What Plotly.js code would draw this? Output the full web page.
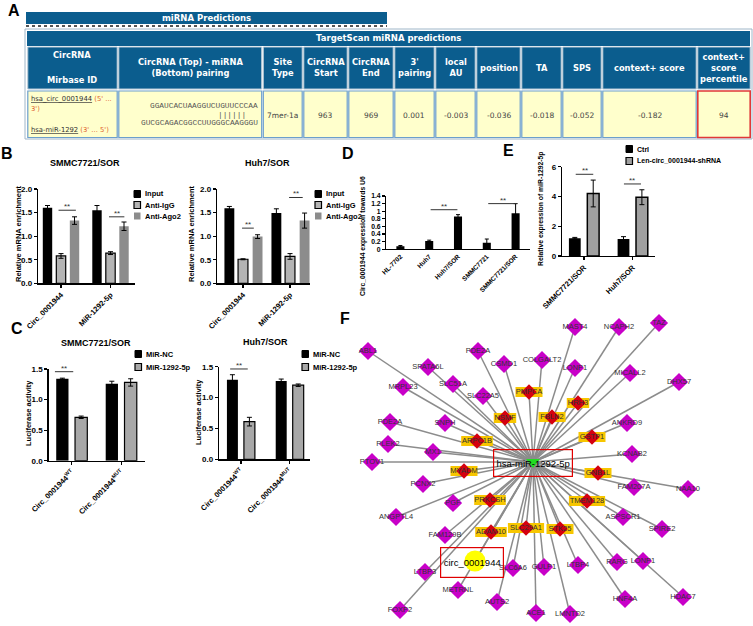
<!DOCTYPE html>
<html>
<head>
<meta charset="utf-8">
<script src="https://cdn.plot.ly/plotly-3.0.1.min.js"></script>
<style>body{margin:0;background:#fff}#chart{width:753px;height:626px}</style>
</head>
<body>
<div id="chart"></div>
<script>
// ---------- data ----------
// A: TargetScan table
const tableHeaders = ['CircRNA (Top) - miRNA<br>(Bottom) pairing', 'Site<br>Type', 'CircRNA<br>Start', 'CircRNA<br>End',
  "3'<br>pairing", 'local<br>AU', 'position', 'TA', 'SPS', 'context+ score', 'context+<br>score<br>percentile']
const tableValues = ['', '7mer-1a', '963', '969', '0.001', '-0.003', '-0.036', '-0.018', '-0.052', '-0.182', '94']
const circSeq = 'GGAUCACUAAGGUCUGUUCCCAA'
const mirSeq = 'GUCGCAGACGGCCUUGGGCAAGGGU'
const pairing = '||||||'

// B: RIP
const ripGroups = ['Circ_0001944', 'MiR-1292-5p']
const ripSeries = ['Input', 'Anti-IgG', 'Anti-Ago2']
const ripSmmc = [[1.6, 1.55], [0.58, 0.64], [1.33, 1.21]]
const ripSmmcErr = [[0.05, 0.1], [0.05, 0.03], [0.08, 0.09]]
const ripHuh7 = [[1.59, 1.49], [0.51, 0.57], [0.99, 1.33]]
const ripHuh7Err = [[0.04, 0.09], [0.01, 0.06], [0.04, 0.16]]

// C: luciferase
const lucGroups = ['Circ_0001944<sup>WT</sup>', 'Circ_0001944<sup>MUT</sup>']
const lucSeries = ['MiR-NC', 'MiR-1292-5p']
const lucSmmc = [[1.34, 1.26], [0.71, 1.28]]
const lucSmmcErr = [[0.01, 0.04], [0.02, 0.06]]
const lucHuh7 = [[1.29, 1.27], [0.61, 1.2]]
const lucHuh7Err = [[0.08, 0.03], [0.07, 0.02]]

// D: circ expression
const cellLines = ['HL-7702', 'Huh7', 'Huh7/SOR', 'SMMC7721', 'SMMC7721/SOR']
const circExpr = [0.08, 0.22, 0.86, 0.17, 0.95]
const circExprErr = [0.02, 0.02, 0.05, 0.1, 0.25]

// E: miR-1292-5p expression
const kdGroups = ['SMMC7721/SOR', 'Huh7/SOR']
const kdSeries = ['Ctrl', 'Len-circ_0001944-shRNA']
const kdExpr = [[1.2, 1.15], [4.2, 3.95]]
const kdErr = [[0.05, 0.15], [0.9, 0.5]]

// F: network (node layout positions)
const geneNames = ['ABL1', 'SPATA6L', 'PDE2A', 'CSMD1', 'COLGALT2', 'MAST4', 'NCAPH2', 'TAZ', 'LONP1', 'MICALL2',
  'DHX57', 'MRPL23', 'SLC51A', 'SLC22A5', 'PDE2A', 'SNPH', 'ANKRD9', 'PLEK2', 'MX1', 'KCNAB2', 'PTOV1', 'PCNX2',
  'FAM207A', 'NAA10', 'PGF', 'ANGPTL4', 'ASPSCR1', 'SPIRE2', 'FAM129B', 'RARG', 'LONP1', 'LTBP4', 'SLC6A6',
  'GULP1', 'LTBP3', 'METRNL', 'HDAC7', 'HNF4A', 'AUTS2', 'FOXP2', 'ACE1', 'LMNTD2']
const geneX = [368, 428, 478, 504, 542, 575, 619, 659, 575, 630, 679, 403, 453, 483, 390, 445, 627, 388, 433, 632,
  372, 423, 634, 688, 453, 396, 623, 662, 445, 617, 643, 578, 513, 544, 425, 458, 683, 625, 497, 400, 536, 570]
const geneY = [351, 367, 351, 364, 360, 327, 327, 323, 368, 373, 382, 387, 384, 396, 422, 423, 423, 444, 452, 454,
  462, 484, 487, 489, 503, 517, 517, 529, 535, 562, 561, 565, 568, 567, 572, 590, 597, 599, 602, 610, 613, 614]
const hitNames = ['PMPCA', 'NSMF', 'FBLN2', 'HRH3', 'ARPC1B', 'GSTP1', 'MYADM', 'GNB1L', 'PRKCSH', 'TMEM128',
  'ADAM10', 'SLC29A1', 'STK25']
const hitX = [529, 505, 552, 578, 477, 592, 464, 598, 490, 587, 491, 526, 560]
const hitY = [392, 418, 417, 403, 441, 437, 471, 473, 500, 501, 532, 528, 529]
const hubName = 'hsa-miR-1292-5p'
const hubPos = [533, 462]
const circName = 'circ_0001944'
const circPos = [475, 561]

// ---------- helpers ----------
const W = 753, H = 626
const px = v => v / W
const py = v => 1 - v / H
const FONT = 'Liberation Sans, Arial, sans-serif'
const TFONT = 'DejaVu Sans, Verdana, sans-serif'
const shapes = []
const annotations = []
const traces = []

function note(x, y, text, o) {
  annotations.push(Object.assign({
    xref: 'paper', yref: 'paper', x: px(x), y: py(y), text: text, showarrow: false,
    xanchor: 'center', yanchor: 'middle', font: {family: FONT, size: 8, color: '#000'}
  }, o || {}))
}
function box(x0, y0, x1, y1, fill, line, lw) {
  shapes.push({type: 'rect', xref: 'paper', yref: 'paper', x0: px(x0), x1: px(x1), y0: py(y1), y1: py(y0),
    fillcolor: fill, line: {color: line || fill, width: lw === undefined ? 1 : lw}})
}
const bold = (s, c) => ({family: FONT, size: s, color: c || '#000', weight: 'bold'})

// ---------- A: table ----------
note(14, 11, 'A', {font: bold(16)})
box(26, 12, 387, 24, '#0b5d8e', '#0b5d8e', 0)
note(207, 18, 'miRNA Predictions', {font: {family: TFONT, size: 8.5, color: '#fff', weight: 'bold'}})
shapes.push({type: 'line', xref: 'paper', yref: 'paper', x0: px(26), x1: px(387), y0: py(26), y1: py(26),
  line: {color: '#555', width: 2, dash: 'dot'}})
box(25, 29, 752, 139, '#fff', '#9fb6c8', 1)
box(27, 31, 750, 46, '#0b5d8e', '#0b5d8e', 0)
note(388, 38.5, 'TargetScan miRNA predictions', {font: {family: TFONT, size: 8.5, color: '#fff', weight: 'bold'}})

const colEdges = [27, 118, 262.5, 303, 348, 394, 435, 476, 521, 562, 602, 697, 751]
for (let i = 0; i < colEdges.length - 1; i++) {
  const a = colEdges[i] + 0.8, b = colEdges[i + 1] - 0.8
  box(a, 47, b, 89, '#0b5d8e', '#b8cad8', 1)
  box(a, 91, b, 137.5, '#ffffcc', i === 11 ? '#e03838' : '#6c9fcc', i === 11 ? 1.6 : 1.2)
}
const hfont = {family: TFONT, size: 8.3, color: '#fff', weight: 'bold'}
note(72, 55, 'CircRNA', {font: hfont})
note(72, 80, 'Mirbase ID', {font: hfont})
tableHeaders.forEach((t, i) => {
  note((colEdges[i + 1] + colEdges[i + 2]) / 2, 68, t, {font: hfont})
})
tableValues.forEach((t, i) => {
  if (t) note((colEdges[i + 1] + colEdges[i + 2]) / 2, 116, t, {font: {family: TFONT, size: 7.5, color: '#444'}})
})
const seqFont = {family: 'Liberation Mono, DejaVu Sans Mono, monospace', size: 7.8, color: '#555'}
note(260, 106, circSeq, {xanchor: 'right', font: seqFont})
note(248, 114.5, pairing, {xanchor: 'right', font: seqFont})
note(260, 123, mirSeq, {xanchor: 'right', font: seqFont})
const cfont = {family: TFONT, size: 6.8, color: '#333'}
note(29, 99, "<span style='text-decoration:underline'>hsa_circ_0001944</span> <span style='color:#e0602a'>(5' ...</span>",
  {xanchor: 'left', font: cfont})
note(29, 108.5, "<span style='color:#e0602a'>3')</span>", {xanchor: 'left', font: cfont})
note(29, 130, "<span style='text-decoration:underline'>hsa-miR-1292</span> <span style='color:#e0602a'>(3' ... 5')</span>",
  {xanchor: 'left', font: cfont})

// ---------- bar panels ----------
const layout = {
  width: W, height: H, margin: {l: 0, r: 0, t: 0, b: 0},
  paper_bgcolor: '#fff', plot_bgcolor: 'rgba(0,0,0,0)', showlegend: false,
  barmode: 'overlay', font: {family: FONT}
}
const axBase = {showline: true, linecolor: '#000', linewidth: 1.3, ticks: 'outside', ticklen: 3,
  tickwidth: 1.2, tickcolor: '#000', showgrid: false, zeroline: false, fixedrange: true}
const sfx = i => (i === 1 ? '' : String(i))

function axes(i, xl, xr, yb, yt, xrange, yrange, xo, yo) {
  layout['xaxis' + sfx(i)] = Object.assign({}, axBase, {type: 'category', domain: [px(xl), px(xr)],
    range: xrange, anchor: 'y' + sfx(i), tickangle: -45, tickfont: bold(7.5)}, xo || {})
  layout['yaxis' + sfx(i)] = Object.assign({}, axBase, {domain: [py(yb), py(yt)], range: yrange,
    anchor: 'x' + sfx(i), tickfont: bold(8)}, yo || {})
}
function bars(i, cats, names, vals, errs, colors, lws, centers, width) {
  names.forEach((n, k) => {
    traces.push({type: 'bar', name: n, x: cats, y: vals[k], xaxis: 'x' + sfx(i), yaxis: 'y' + sfx(i),
      width: width, offset: centers[k] - width / 2,
      marker: {color: colors[k], line: {color: '#000', width: lws[k]}},
      error_y: {type: 'data', array: errs[k], color: '#000', thickness: 1, width: 2.5},
      hoverinfo: 'skip'})
  })
}
function sig(i, x0, x1, yv) {
  shapes.push({type: 'line', xref: 'x' + sfx(i), yref: 'y' + sfx(i), x0: x0, x1: x1, y0: yv, y1: yv,
    line: {color: '#333', width: 1}})
  annotations.push({xref: 'x' + sfx(i), yref: 'y' + sfx(i), x: (x0 + x1) / 2, y: yv, text: '**',
    showarrow: false, yanchor: 'bottom', yshift: -3, font: {family: FONT, size: 8, color: '#333'}})
}
function legendBox(x, ys, names, fills, lws, size) {
  names.forEach((n, k) => {
    box(x, ys[k] - 3.5, x + 6.5, ys[k] + 3.5, fills[k], '#000', lws[k])
    note(x + 9, ys[k], n, {xanchor: 'left', font: bold(size || 7.5)})
  })
}
const ripColors = ['#000', '#b4b4b4', '#8c8c8c']
const ripLines = [0, 1.2, 0]

// B left
note(7, 154, 'B', {font: bold(16)})
axes(1, 38, 135, 283.3, 189, [-0.465, 1.495], [0, 2], {}, {dtick: 0.5, tickformat: '.1f'})
bars(1, ripGroups, ripSeries, ripSmmc, ripSmmcErr, ripColors, ripLines, [-0.273, 0, 0.273], 0.19)
sig(1, -0.05, 0.3, 1.55); sig(1, 0.97, 1.28, 1.41)
note(85, 163, 'SMMC7721/SOR', {font: bold(9)})
note(18, 234, 'Relative mRNA enrichment', {textangle: -90, font: bold(7.5)})
legendBox(134, [194, 205, 216], ripSeries, ripColors, [1, 1.2, 0])

// B right
axes(2, 217, 310, 283.3, 189, [-0.553, 1.425], [0, 2], {}, {dtick: 0.5, tickformat: '.1f'})
bars(2, ripGroups, ripSeries, ripHuh7, ripHuh7Err, ripColors, ripLines, [-0.29, 0, 0.31], 0.21)
sig(2, -0.02, 0.23, 1.17); sig(2, 0.98, 1.27, 1.82)
note(267, 163, 'Huh7/SOR', {font: bold(9)})
note(191, 234, 'Relative mRNA enrichment', {textangle: -90, font: bold(7.5)})
legendBox(315, [194, 205, 216], ripSeries, ripColors, [1, 1.2, 0])

// C left
const lucColors = ['#000', '#a8a8a8']
note(17, 328, 'C', {font: bold(16)})
axes(3, 48.5, 145, 460.7, 369, [-0.47, 1.48], [0, 1.5], {}, {dtick: 0.5, tickformat: '.1f'})
bars(3, lucGroups, lucSeries, lucSmmc, lucSmmcErr, lucColors, [0, 1.2], [-0.19, 0.19], 0.248)
sig(3, -0.34, 0.03, 1.456)
note(96, 343, 'SMMC7721/SOR', {font: bold(9)})
note(28, 413, 'Luciferase activity', {textangle: -90, font: bold(7.5)})
legendBox(135, [354, 367], lucSeries, lucColors, [1, 1.2])

// C right
axes(4, 219, 310, 459.3, 366.7, [-0.449, 1.416], [0, 1.5], {}, {dtick: 0.5, tickformat: '.1f'})
bars(4, lucGroups, lucSeries, lucHuh7, lucHuh7Err, lucColors, [0, 1.2], [-0.174, 0.174], 0.225)
sig(4, -0.22, 0.14, 1.463)
note(265, 342, 'Huh7/SOR', {font: bold(9)})
note(198, 412, 'Luciferase activity', {textangle: -90, font: bold(7.5)})
legendBox(302, [354, 367], lucSeries, lucColors, [1, 1.2])

// D
note(348, 154, 'D', {font: bold(16)})
axes(5, 386, 530, 249.3, 196, [-0.5, 4.5], [0, 1.4],
  {ticks: '', tickfont: bold(6.5), linewidth: 1},
  {linewidth: 1, tickfont: bold(6.8), tickvals: [0, 0.2, 0.4, 0.6, 0.8, 1, 1.2, 1.4],
    ticktext: ['0', '0.2', '0.4', '0.6', '0.8', '1', '1.2', '1.4']})
traces.push({type: 'bar', x: cellLines, y: circExpr, xaxis: 'x5', yaxis: 'y5', width: 0.28, offset: -0.14,
  marker: {color: '#000'}, error_y: {type: 'data', array: circExprErr, color: '#000', thickness: 1, width: 2},
  hoverinfo: 'skip'})
sig(5, 1.05, 1.98, 1.04); sig(5, 3.05, 4.05, 1.2)
note(363, 236, 'Circ_0001944 expression towards U6', {textangle: -90, font: bold(6.8)})

// E
note(509, 151, 'E', {font: bold(16)})
const kdColors = ['#000', '#a0a0a0']
axes(6, 562, 655, 256, 166.7, [-0.452, 1.458], [0, 6], {}, {dtick: 2})
bars(6, kdGroups, kdSeries, kdExpr, kdErr, kdColors, [0, 1.5], [-0.189, 0.189], 0.242)
sig(6, -0.17, 0.19, 5.49); sig(6, 0.82, 1.17, 4.84)
note(541, 209, 'Relative expression of miR-1292-5p', {textangle: -90, font: bold(6.8)})
legendBox(626, [149, 161], kdSeries, kdColors, [1, 1.2], 7)

// ---------- F: network ----------
note(345, 318, 'F', {font: bold(16)})
layout.xaxis7 = {domain: [px(355), 1], range: [355, 753], anchor: 'y7', visible: false, fixedrange: true}
layout.yaxis7 = {domain: [0, py(285)], range: [626, 285], anchor: 'x7', visible: false, fixedrange: true}

const allX = geneX.concat(hitX, [circPos[0]])
const allY = geneY.concat(hitY, [circPos[1]])
const ex = [], ey = []
allX.forEach((x, k) => {
  ex.push(hubPos[0], x, null); ey.push(hubPos[1], allY[k], null)
})
traces.push({type: 'scatter', mode: 'lines', x: ex, y: ey, xaxis: 'x7', yaxis: 'y7',
  line: {color: '#8c8c8c', width: 1.5}, hoverinfo: 'skip'})

// yellow label backgrounds of the highlighted targets
const rx = [], ry = []
hitNames.forEach((n, k) => {
  const w = n.length * 4.6 + 4, h = 5
  rx.push(hitX[k] - w / 2, hitX[k] + w / 2, hitX[k] + w / 2, hitX[k] - w / 2, hitX[k] - w / 2, null)
  ry.push(hitY[k] - h, hitY[k] - h, hitY[k] + h, hitY[k] + h, hitY[k] - h, null)
})
traces.push({type: 'scatter', mode: 'lines', x: rx, y: ry, xaxis: 'x7', yaxis: 'y7', fill: 'toself',
  fillcolor: '#f7c600', line: {width: 0}, hoverinfo: 'skip'})

traces.push({type: 'scatter', mode: 'markers', x: geneX, y: geneY, xaxis: 'x7', yaxis: 'y7',
  marker: {symbol: 'diamond', size: 14, color: '#c800c8'}, hoverinfo: 'skip'})
traces.push({type: 'scatter', mode: 'markers', x: hitX, y: hitY, xaxis: 'x7', yaxis: 'y7',
  marker: {symbol: 'diamond', size: 12, color: '#d40010'}, hoverinfo: 'skip'})
traces.push({type: 'scatter', mode: 'markers', x: [circPos[0]], y: [circPos[1]], xaxis: 'x7', yaxis: 'y7',
  marker: {symbol: 'circle', size: 21, color: '#ffff00'}, hoverinfo: 'skip'})
traces.push({type: 'scatter', mode: 'markers', x: [hubPos[0]], y: [hubPos[1]], xaxis: 'x7', yaxis: 'y7',
  marker: {symbol: 'triangle-down', size: 12, color: '#22dd22'}, hoverinfo: 'skip'})
// node labels on top of the markers
traces.push({type: 'scatter', mode: 'text', x: geneX.concat(hitX), y: geneY.concat(hitY),
  text: geneNames.concat(hitNames), xaxis: 'x7', yaxis: 'y7', textposition: 'middle center',
  textfont: {family: FONT, size: 7.5, color: '#333'}, hoverinfo: 'skip'})

annotations.push({xref: 'x7', yref: 'y7', x: hubPos[0], y: hubPos[1] + 1, text: hubName, showarrow: false,
  width: 76, height: 24, borderpad: 1, bordercolor: '#e00000', borderwidth: 1.2,
  font: {family: FONT, size: 9.5, color: '#000'}})
annotations.push({xref: 'x7', yref: 'y7', x: circPos[0] - 3, y: circPos[1] + 1, text: circName, showarrow: false,
  width: 60, height: 27, borderpad: 1, bordercolor: '#e00000', borderwidth: 1.2,
  font: {family: FONT, size: 9.5, color: '#000'}})

layout.shapes = shapes
layout.annotations = annotations
Plotly.newPlot('chart', traces, layout, {staticPlot: true})
</script>
</body>
</html>
